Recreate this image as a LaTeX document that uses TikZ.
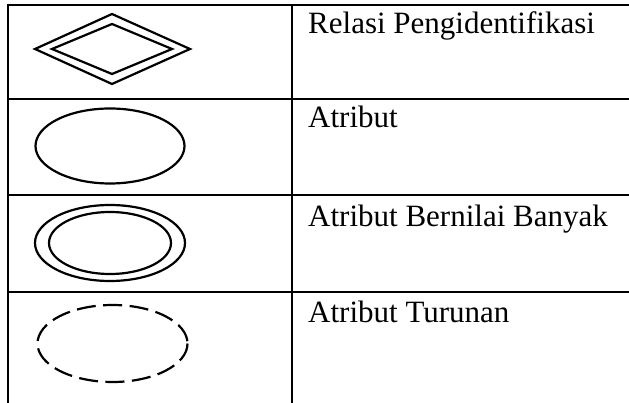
\documentclass[tikz,border=0pt]{standalone}
\usepackage{fontspec}
\setmainfont{Liberation Serif}
\usetikzlibrary{positioning}

\begin{document}
\begin{tikzpicture}[x=1pt,y=-1pt,
    grid line/.style={line width=2.8pt},
    symbol/.style={line width=2.2pt,line join=miter},
    label text/.style={anchor=base west,inner sep=0pt,font=\fontsize{31}{36}\selectfont}]
   \useasboundingbox (0,0) rectangle (629,403);
   % table
   \draw[grid line] (8,3.6) -- (8,403) (292,3.6) -- (292,403);
   \foreach \y in {5,99,195,292}
      \draw[grid line] (8,\y) -- (629,\y);
   % symbols
   \draw[symbol] (35,49) -- (112,14) -- (190,49) -- (112,84) -- cycle;
   \draw[symbol] (52,49) -- (112,24) -- (172,49) -- (112,74) -- cycle;
   \draw[symbol] (110,146) ellipse [x radius=74.5, y radius=37.5];
   \draw[symbol] (110,243) ellipse [x radius=75, y radius=38];
   \draw[symbol] (110,243) ellipse [x radius=61, y radius=31];
   \draw[symbol,dash pattern=on 19pt off 7.5pt] (112.5,343.5) ellipse [x radius=75, y radius=38.5];
   % labels
   \node[label text] (rel)   at (308,34)  {Relasi Pengidentifikasi};
   \node[label text] (atr)   at (308,128) {Atribut};
   \node[label text] (multi) at (308,227) {Atribut Bernilai Banyak};
   \node[label text] (der)   at (308,322) {Atribut Turunan};
\end{tikzpicture}
\end{document}
